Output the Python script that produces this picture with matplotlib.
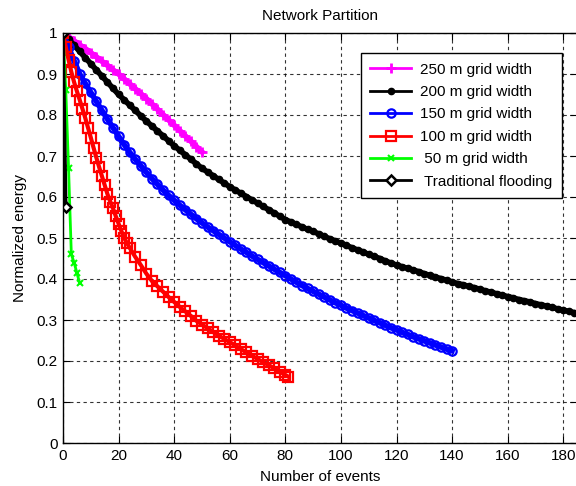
import matplotlib
matplotlib.use("Agg")
import matplotlib.pyplot as plt
import numpy as np

plt.rcParams['font.family'] = ['Liberation Sans', 'DejaVu Sans']

# ---- data ----
x_250 = list(range(0, 51, 2))
y_250 = [1.0, 0.991, 0.981, 0.971, 0.962, 0.952, 0.942, 0.931, 0.921, 0.91,
         0.9, 0.888, 0.876, 0.864, 0.852, 0.84, 0.827, 0.814, 0.801, 0.788,
         0.775, 0.762, 0.749, 0.736, 0.723, 0.71]

x_200 = list(range(0, 187, 2))
y_200 = [1.0, 0.985, 0.97, 0.955, 0.94, 0.925, 0.91, 0.895, 0.88, 0.865,
         0.85, 0.837, 0.824, 0.811, 0.798, 0.785, 0.773, 0.761, 0.749, 0.737,
         0.725, 0.714, 0.703, 0.692, 0.681, 0.67, 0.661, 0.652, 0.643, 0.634,
         0.625, 0.617, 0.609, 0.601, 0.593, 0.585, 0.577, 0.569, 0.561, 0.553,
         0.545, 0.539, 0.533, 0.527, 0.521, 0.516, 0.51, 0.504, 0.498, 0.493,
         0.487, 0.482, 0.476, 0.471, 0.466, 0.46, 0.455, 0.45, 0.444, 0.439,
         0.434, 0.43, 0.426, 0.422, 0.418, 0.413, 0.409, 0.405, 0.401, 0.397,
         0.393, 0.389, 0.386, 0.382, 0.379, 0.375, 0.371, 0.368, 0.364, 0.361,
         0.357, 0.354, 0.35, 0.347, 0.344, 0.34, 0.337, 0.334, 0.331, 0.327,
         0.324, 0.321, 0.318, 0.314]

x_150 = list(range(0, 141, 2))
y_150 = [1.0, 0.965, 0.932, 0.9, 0.877, 0.855, 0.833, 0.811, 0.79, 0.769,
         0.748, 0.728, 0.709, 0.692, 0.676, 0.66, 0.645, 0.631, 0.617, 0.604,
         0.592, 0.58, 0.569, 0.558, 0.547, 0.537, 0.527, 0.518, 0.509, 0.5,
         0.491, 0.482, 0.473, 0.465, 0.456, 0.448, 0.44, 0.432, 0.424, 0.416,
         0.408, 0.4, 0.392, 0.384, 0.377, 0.37, 0.363, 0.356, 0.349, 0.342,
         0.336, 0.329, 0.323, 0.317, 0.311, 0.305, 0.299, 0.293, 0.287, 0.281,
         0.276, 0.27, 0.265, 0.259, 0.254, 0.249, 0.244, 0.239, 0.234, 0.229,
         0.225]

x_100 = list(range(0, 25)) + list(range(26, 81, 2)) + [81]
y_100 = [1.0, 0.965, 0.935, 0.905, 0.88, 0.858, 0.837, 0.815, 0.793, 0.769,
         0.745, 0.72, 0.696, 0.673, 0.651, 0.629, 0.607, 0.589, 0.572, 0.553,
         0.535, 0.517, 0.5, 0.488, 0.476,
         0.454, 0.434, 0.413, 0.395, 0.382, 0.369, 0.356,
         0.344, 0.332, 0.321, 0.31, 0.298, 0.289, 0.28, 0.271, 0.262, 0.254,
         0.246, 0.238, 0.229, 0.221, 0.213, 0.205, 0.197, 0.19, 0.182, 0.174,
         0.166, 0.162]

x_50 = [0, 1, 2, 3, 4, 5, 6]
y_50 = [1.0, 0.86, 0.67, 0.46, 0.44, 0.415, 0.39]

x_trad = [0, 1]
y_trad = [1.0, 0.575]

labels = ['250 m grid width', '200 m grid width', '150 m grid width',
          '100 m grid width', ' 50 m grid width', ' Traditional flooding']

xticks = list(range(0, 181, 20))
yticks = [0, 0.1, 0.2, 0.3, 0.4, 0.5, 0.6, 0.7, 0.8, 0.9, 1.0]
ytick_labels = ['0', '0.1', '0.2', '0.3', '0.4', '0.5', '0.6', '0.7', '0.8', '0.9', '1']

# ---- figure ----
fig = plt.figure(figsize=(5.76, 4.86), dpi=100)
ax = fig.add_axes([63/576, 43/486, 1 - 63/576 + 0.002, 410/486])

fs = 11
band = 4.0
ax.plot(x_250, y_250, color='#ff00ff', marker='+', ms=7, mew=2, lw=band)
ax.plot(x_200, y_200, color='black', marker='o', ms=4.5, lw=band)
ax.plot(x_150, y_150, color='#0000ff', marker='o', ms=6, mfc='none', mew=1.6, lw=band)
ax.plot(x_100, y_100, color='#ff0000', marker='s', ms=7.5, mfc='none', mew=1.6, lw=3)
ax.plot(x_50, y_50, color='#00ff00', marker='x', ms=5, mew=1.5, lw=2)
ax.plot(x_trad, y_trad, color='black', marker='D', ms=5, mfc='white', mew=1.8, lw=2.5)

# legend proxies (thin lines, as in the reference legend)
h = []
h += ax.plot([], [], color='#ff00ff', marker='+', ms=7, mew=2, lw=2)
h += ax.plot([], [], color='black', marker='o', ms=4.5, lw=2)
h += ax.plot([], [], color='#0000ff', marker='o', ms=6, mfc='none', mew=1.6, lw=2)
h += ax.plot([], [], color='#ff0000', marker='s', ms=6.5, mfc='none', mew=1.6, lw=2)
h += ax.plot([], [], color='#00ff00', marker='x', ms=5, mew=1.5, lw=2)
h += ax.plot([], [], color='black', marker='D', ms=5, mfc='white', mew=1.8, lw=2)

ax.set_xlim(0, 185)
ax.set_ylim(0, 1)
ax.set_xticks(xticks)
ax.set_yticks(yticks)
ax.set_yticklabels(ytick_labels)
ax.tick_params(direction='in', top=True, right=True, length=5, labelsize=fs, pad=4)
ax.grid(True, color='black', linestyle=(0, (3, 3)), linewidth=0.8, alpha=0.8)
for s in ax.spines.values():
    s.set_linewidth(1.0)

ax.set_title('Network Partition', fontsize=fs, pad=9)
ax.set_xlabel('Number of events', fontsize=fs, labelpad=5)
ax.set_ylabel('Normalized energy', fontsize=fs, labelpad=7)

leg = ax.legend(h, labels, loc='upper right', bbox_to_anchor=(0.97, 0.95), fontsize=fs,
                frameon=True, fancybox=False, edgecolor='black', framealpha=1,
                handlelength=2.7, borderpad=0.6, labelspacing=0.55, borderaxespad=0,
                handletextpad=0.6)
leg.get_frame().set_linewidth(1.0)

fig.savefig('out.png', dpi=100)
